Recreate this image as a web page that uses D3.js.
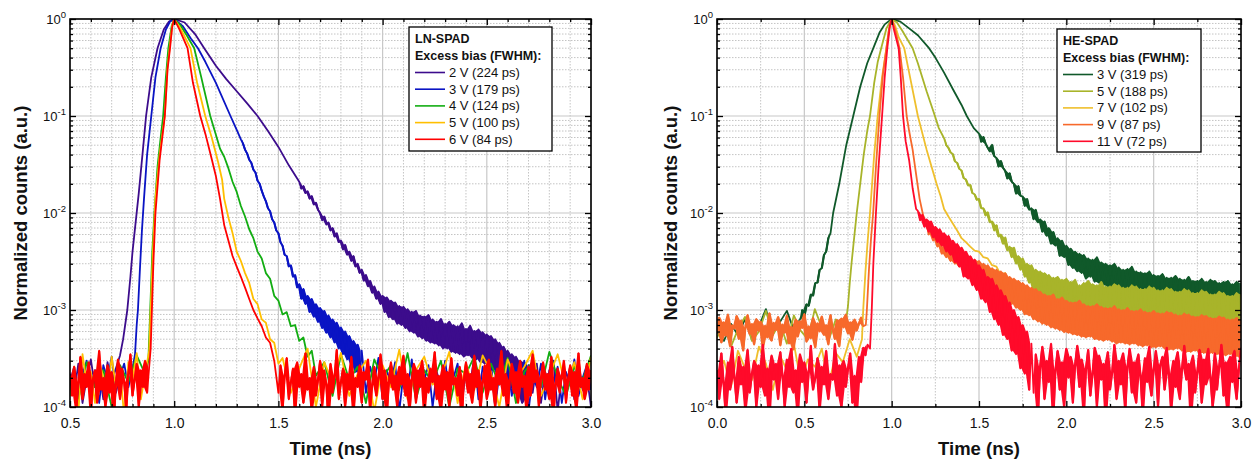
<!DOCTYPE html>
<html>
<head>
<meta charset="utf-8">
<script src="https://cdn.jsdelivr.net/npm/d3@7"></script>
<style>
    body { margin: 0; background: #fff; }
    svg { font-family: "Liberation Sans", Arial, sans-serif; }
</style>
</head>
<body>
<svg id="chart" width="1252" height="459"></svg>
<script>
// ---------- data (times in ns, counts normalized; Pre/Rise/Post/Floor arrays are in units of 1e-4) ----------
const lnLabels = ["2 V (224 ps)", "3 V (179 ps)", "4 V (124 ps)", "5 V (100 ps)", "6 V (84 ps)"];
const heLabels = ["3 V (319 ps)", "5 V (188 ps)", "7 V (102 ps)", "9 V (87 ps)", "11 V (72 ps)"];
const lnXTicks = [0.5, 1.0, 1.5, 2.0, 2.5, 3.0];
const heXTicks = [0.0, 0.5, 1.0, 1.5, 2.0, 2.5, 3.0];
const yTicks = [1e-4, 1e-3, 1e-2, 1e-1, 1];

// LN-SPAD 2 V
const ln2Pre = [2.2, 1.4, 2.8, 1.1, 2.0, 3.1, 1.6, 2.4, 1.2, 2.9, 1.8, 2.5, 3.4];
const ln2Main = [[0.755, 5e-4], [0.775, 1e-3], [0.79, 2.2e-3], [0.80, 4e-3], [0.815, 8e-3], [0.83, 0.016], [0.85, 0.045],
    [0.865, 0.1], [0.89, 0.25], [0.92, 0.5], [0.95, 0.78], [0.975, 0.94], [1.0, 1], [1.05, 0.92], [1.1, 0.7], [1.144, 0.5],
    [1.2, 0.33], [1.25, 0.24], [1.3, 0.18], [1.35, 0.135], [1.4, 0.1], [1.45, 0.07], [1.5, 0.048], [1.55, 0.031]];
const ln2Post = [210, 178, 190, 160, 168, 140, 150, 122, 128, 108,
    100, 84, 92, 76, 80, 66, 70, 57, 62, 50,
    52, 42, 47, 37, 40, 32, 36, 28, 30, 24,
    26, 20, 23, 17.5, 20, 15, 17.5, 13, 15.5, 11.5,
    14, 9.5, 13.5, 8.4, 12.5, 8.0, 12, 7.2, 11, 7.0,
    10.8, 6.5, 10.2, 6.0, 9.6, 5.8, 9.8, 5.3, 8.8, 5.1,
    8.6, 4.8, 8.9, 4.6, 8.0, 4.5, 7.6, 4.3, 8.1, 4.0,
    7.2, 4.0, 7.6, 3.7, 7.0, 3.6, 6.8, 3.5, 7.3, 3.3,
    6.4, 3.4, 6.9, 3.2, 6.1, 3.1, 6.3, 2.9, 5.9, 2.8,
    5.6, 2.7, 5.4, 2.4, 5.0, 2.2, 4.6, 2.0, 4.2, 1.8,
    3.8, 1.6, 3.5, 1.4, 3.3, 1.3, 3.0, 1.1, 2.9, 1.2, 2.7];
const ln2Floor = [1.4, 2.8, 1.1, 2.3, 1.7, 3.0, 0.9, 2.2, 1.6, 2.6, 1.2, 2.9, 1.5, 2.1, 1.0];

// LN-SPAD 3 V
const ln3Pre = [1.8, 2.6, 1.3, 2.2, 3.0, 1.5, 2.4, 1.1, 2.7, 1.9, 3.3, 1.4, 2.1, 2.8, 1.6, 2.5];
const ln3Main = [[0.812, 3.5e-4], [0.82, 7e-4], [0.826, 1e-3], [0.835, 2.5e-3], [0.845, 6.5e-3], [0.855, 0.014], [0.87, 0.04],
    [0.89, 0.1], [0.91, 0.25], [0.935, 0.5], [0.96, 0.78], [0.98, 0.94], [1.0, 1], [1.04, 0.85], [1.08, 0.63], [1.114, 0.5],
    [1.15, 0.36], [1.2, 0.22], [1.27, 0.1], [1.3, 0.072]];
const ln3Post = [575, 520, 450, 410, 355, 330, 280, 262, 215, 200,
    170, 148, 132, 112, 104, 86, 80, 66, 62, 50,
    46, 37, 36, 28, 29, 22, 23, 17, 18.5, 13,
    16.5, 11.5, 14, 9.5, 13, 8.5, 11.5, 7.5, 10.5, 6.5,
    9.8, 5.8, 8.8, 5.2, 8.0, 4.6, 7.4, 4.0, 6.6, 3.5,
    6.0, 3.1, 5.4, 2.7, 4.8, 2.3, 4.4, 2.0, 3.8];
const ln3Floor = [1.4, 2.6, 1.8, 3.2, 1.2, 2.4, 1.7, 2.9, 0.9, 2.2, 1.5, 3.1, 1.3, 2.5, 1.9, 2.7, 1.0, 2.3, 1.6, 3.0,
    1.4, 2.0, 2.8, 1.1, 2.4, 1.7, 3.3, 1.2, 2.6, 1.8, 2.9, 1.0, 2.2, 1.5, 2.7, 1.3, 2.5, 1.9, 3.0, 0.9,
    2.1, 1.6, 2.8, 1.2, 2.4, 1.8, 2.6, 1.1, 2.3, 1.7, 3.1, 1.3, 2.0, 2.7, 1.5];

// LN-SPAD 4 V
const ln4Pre = [2.0, 1.2, 2.9, 1.6, 2.4, 1.0, 2.7, 1.8, 3.4, 2.2];
const ln4Main = [[0.876, 3e-4], [0.885, 1e-3], [0.895, 4e-3], [0.905, 0.01], [0.92, 0.03], [0.935, 0.06], [0.947, 0.1],
    [0.96, 0.25], [0.972, 0.5], [0.988, 0.85], [1.0, 1], [1.03, 0.86], [1.06, 0.68], [1.096, 0.5], [1.13, 0.25],
    [1.173, 0.1], [1.2, 0.064], [1.22, 0.046]];
const ln4Post = [380, 290, 210, 165, 118, 92, 68, 55, 40, 34, 24, 21, 14, 12.5, 9, 9.5, 6.8, 7.0, 4.8, 5.2, 3.3, 3.8];
const ln4Floor = [2.1, 2.9, 1.3, 3.5, 1.9, 2.6, 1.1, 3.1, 2.0, 2.7, 1.5, 3.6, 1.2, 2.4, 1.8, 3.0, 1.0, 2.5, 2.2, 3.3,
    1.4, 2.8, 1.7, 3.2, 1.1, 2.3, 2.9, 1.6, 3.7, 2.0, 1.3, 2.6, 1.9, 3.4];

// LN-SPAD 5 V
const ln5Pre = [1.3, 2.6, 0.9, 3.5, 1.7, 2.3, 1.1, 3.0, 2.0, 1.4, 3.3, 1.6, 2.5, 0.8, 2.9, 1.9, 3.6, 1.2, 2.2, 3.8];
const ln5Main = [[0.89, 1.5e-3], [0.90, 5e-3], [0.91, 0.014], [0.93, 0.04], [0.955, 0.1], [0.967, 0.3], [0.978, 0.5],
    [0.99, 0.85], [1.0, 1], [1.03, 0.8], [1.078, 0.5], [1.11, 0.22], [1.149, 0.1], [1.18, 0.06], [1.21, 0.034], [1.23, 0.022]];
const ln5Post = [140, 90, 62, 40, 32, 24, 19, 13, 11.5, 8, 7.4, 5.0, 4.6, 2.8];
const ln5Floor = [3.2, 1.4, 2.5, 4.0, 1.0, 2.9, 1.8, 3.6, 1.3, 2.2, 3.0, 0.9, 2.7, 1.6, 3.9, 1.2, 2.4, 3.3, 1.7, 2.0,
    3.7, 1.1, 2.8, 1.5, 3.4, 2.3, 1.0, 3.1, 1.9, 2.6, 3.8, 1.3, 2.1, 3.5, 1.6, 2.9, 1.2, 3.3];

// LN-SPAD 6 V
const ln6Pre = [2.1, 1.3, 2.6, 0.9, 1.8, 3.3, 1.2, 2.2, 1.6, 2.9, 0.8, 1.9, 2.4, 1.1, 3.8, 1.5, 2.0, 1.0, 2.7, 1.4,
    2.3, 0.7, 1.7, 3.1, 1.2, 2.5, 1.8, 0.9, 2.2, 3.5, 1.3, 1.9, 2.8, 1.0, 2.4, 1.6, 3.0, 1.4, 2.6];
const ln6Main = [[0.887, 4e-4], [0.893, 1e-3], [0.90, 3e-3], [0.91, 0.01], [0.93, 0.035], [0.955, 0.1], [0.968, 0.3],
    [0.98, 0.5], [0.99, 0.82], [1.0, 1], [1.025, 0.78], [1.064, 0.5], [1.09, 0.22], [1.125, 0.1], [1.15, 0.065],
    [1.18, 0.036], [1.2, 0.024], [1.22, 0.014]];
const ln6Post = [75, 52, 36, 28, 22, 17, 13, 10, 8.2, 6.8, 5.2, 4.6, 3.0];
const ln6Floor = [1.4, 2.7, 0.9, 2.1, 3.2, 1.2, 1.8, 2.5, 0.8, 2.9,
    1.6, 2.2, 1.1, 3.6, 1.5, 2.0, 0.9, 2.6, 1.3, 1.9,
    3.0, 1.0, 2.4, 1.7, 0.7, 2.8, 1.4, 2.1, 3.9, 1.2,
    1.8, 2.5, 1.0, 2.2, 1.5, 3.3, 0.8, 2.0, 1.6, 2.7,
    1.1, 2.3, 1.9, 3.1, 0.9, 1.7, 2.6, 1.3, 2.0, 3.5,
    1.2, 2.4, 0.8, 1.8, 2.9, 1.5, 2.1, 1.0, 2.6, 1.7,
    3.4, 1.3, 2.2, 0.9, 1.9, 2.8, 1.1, 2.4, 1.6, 3.0,
    0.8, 2.0, 1.4, 2.5, 1.8, 3.7, 1.2, 2.1, 0.9, 2.7,
    1.5, 2.3, 1.0, 3.2, 1.7, 2.0, 1.3, 2.6, 0.7, 1.9,
    2.9, 1.4, 2.2, 1.1, 3.4, 1.6, 2.4, 0.9, 1.8, 2.7,
    1.2, 3.1, 1.5, 2.0, 1.0, 2.5, 1.7, 3.8, 1.3, 2.2,
    0.8, 1.9, 2.8, 1.4, 2.3, 1.1, 3.0, 1.6, 2.1, 0.9,
    2.6, 1.3, 3.5, 1.8, 2.4, 1.0, 2.0, 2.9, 1.5, 2.2,
    1.2, 3.3, 0.8, 1.7, 2.5, 1.4, 2.1, 3.0, 1.1, 1.9,
    2.7, 1.3, 2.3, 0.9, 3.6, 1.6, 2.0, 1.2, 2.8, 1.5, 2.4];

// HE-SPAD 3 V
const he3Pre = [6.0, 4.8, 7.2, 5.5, 8.0, 5.0, 6.8, 10.2, 5.8, 7.5, 9.8, 6.2, 8.4];
const he3Rise = [8, 10, 8.5, 11.5, 11, 14.5, 14, 19, 19, 26, 27, 37, 40, 55, 62];
const he3Main = [[0.665, 0.01], [0.7, 0.02], [0.74, 0.05], [0.78, 0.1], [0.82, 0.2], [0.86, 0.35], [0.895, 0.5],
    [0.93, 0.72], [0.96, 0.88], [1.0, 1], [1.05, 0.94], [1.1, 0.8], [1.15, 0.68], [1.214, 0.5], [1.25, 0.4], [1.3, 0.28],
    [1.35, 0.19], [1.4, 0.13], [1.43, 0.1], [1.47, 0.075]];
const he3Post = [660, 540, 610, 520, 470, 430, 505, 385, 370, 300, 345, 292, 272, 226, 258, 210,
    200, 158, 190, 150, 148, 118, 140, 108, 112, 86, 108, 80, 86, 64, 82, 58,
    70, 48, 64, 46, 55, 36, 52, 35, 46, 29, 43, 27, 40, 25, 38, 24,
    37, 21, 34, 22, 33, 19.5, 35, 19, 31, 18, 30, 17.5, 29, 16.5, 30, 16,
    27.5, 15.5, 26, 16, 26.5, 14.5, 28, 14, 25, 14, 24.5, 13.5, 24, 13, 25, 12.5,
    23, 13, 22.5, 12, 23.5, 12, 21.5, 12.5, 21.5, 11.5, 22.5, 11.5, 21, 11.8, 20.5, 11,
    22, 11, 20, 11.5, 20, 10.5, 21, 11, 19.5, 10.8, 20.5, 10.5, 20, 10.2, 19, 10.6,
    19.5, 10.5, 20, 10, 18.5, 10.2, 19.5, 10, 19];

// HE-SPAD 5 V
const he5Pre = [5.2, 7.0, 4.2, 6.3, 8.5, 4.8, 6.0, 9.8, 5.5, 7.4, 4.5, 8.8, 6.1, 5.0, 10.2, 6.6, 4.9, 8.0, 6.8];
const he5Main = [[0.74, 8e-4], [0.75, 1.1e-3], [0.76, 1.9e-3], [0.77, 3e-3], [0.785, 5.5e-3], [0.80, 0.01], [0.82, 0.02],
    [0.84, 0.04], [0.86, 0.07], [0.876, 0.1], [0.9, 0.22], [0.92, 0.36], [0.94, 0.5], [0.97, 0.8], [1.0, 1], [1.03, 0.92],
    [1.06, 0.76], [1.12, 0.5], [1.15, 0.35], [1.2, 0.18], [1.24, 0.11], [1.27, 0.075]];
const he5Post = [590, 500, 470, 420, 405, 340, 330, 285, 275, 228, 222, 192, 195, 160, 156, 136,
    140, 112, 112, 94, 102, 80, 82, 66, 75, 57, 60, 48, 56, 41, 45, 35,
    44, 30, 36, 26, 34, 22, 30, 19, 29, 16, 26, 15, 25, 12.5, 24, 11.5,
    23, 10.5, 21.5, 10, 22, 9.5, 20.5, 9, 21, 8.8, 19.5, 8.5, 20.5, 8.4, 18, 8.6,
    19, 8.2, 20, 7.8, 18.5, 8.0, 18, 7.7, 19.5, 7.6, 17.5, 7.9, 17.5, 7.5, 18.5, 7.3,
    18, 7.4, 17, 7.5, 17, 7.1, 18, 7.2, 17.5, 7.0, 16.5, 7.2, 16.5, 6.9, 17.5, 6.8,
    17, 6.7, 16, 6.9, 16, 6.6, 17, 6.5, 16.5, 6.4, 15.5, 6.6, 15.5, 6.3, 16.5, 6.2,
    16, 6.1, 15, 6.3, 15, 6.0, 16, 5.9, 15.5, 5.8, 14.5, 6.0, 14.5, 5.7, 15.5, 5.6,
    15, 5.5, 14, 5.7, 14, 5.4, 15, 5.3, 14.5];

// HE-SPAD 7 V
const he7Pre = [2.2, 3.0, 1.6, 3.8, 2.5, 1.9, 4.2, 2.8, 1.5, 3.4, 2.4, 4.5, 1.8, 3.1, 2.6, 4.0, 1.7, 3.6, 2.9, 5.0, 3.3];
const he7Main = [[0.83, 5e-4], [0.837, 1e-3], [0.85, 2.5e-3], [0.862, 5e-3], [0.876, 0.01], [0.9, 0.04], [0.92, 0.1],
    [0.945, 0.25], [0.97, 0.5], [0.985, 0.78], [1.0, 1], [1.02, 0.85], [1.04, 0.65], [1.072, 0.5], [1.1, 0.28],
    [1.15, 0.1], [1.2, 0.045], [1.257, 0.02], [1.28, 0.015]];
const he7Post = [110, 92, 78, 66, 55, 50, 45, 41, 40, 35, 34, 29, 28, 23, 24, 18.5, 20, 15, 16.5, 12.5,
    14.5, 10.5, 13, 9, 12, 8, 11, 7.5, 10, 7, 9.5, 6.5, 9, 6.5, 8.8, 6, 8.5, 6, 8.2, 5.8,
    8, 5.5, 8, 5.6, 7.8, 5.4, 7.6, 5.2, 7.5, 5.3, 7.4, 5, 7.2, 5.1, 7, 4.9, 7.2, 4.8, 7, 4.7,
    6.8, 4.8, 6.9, 4.6, 6.7, 4.5, 6.6, 4.6, 6.5];

// HE-SPAD 9 V
const he9Pre = [6.0, 8.4, 4.6, 7.5, 5.4, 9.0, 4.2, 7.0, 6.4, 8.7,
    5.0, 7.8, 3.8, 6.6, 8.9, 5.6, 7.2, 4.4, 8.1, 6.1,
    7.6, 4.0, 6.9, 5.2, 9.3, 4.8, 7.4, 6.2, 8.5, 4.3,
    7.1, 5.8, 8.8, 4.5, 6.7, 3.9, 8.0, 5.3, 7.7, 6.5,
    9.1, 4.7, 6.8, 5.1, 8.3, 4.1, 7.3, 6.0, 8.6, 5.5,
    7.0, 4.4, 8.9, 6.3, 5.0, 7.9, 4.2, 8.2, 6.6, 9.0,
    5.7, 7.5, 4.9, 8.0, 6.1, 7.2, 8.4, 6.8];
const he9Main = [[0.852, 7e-4], [0.858, 1e-3], [0.87, 2.6e-3], [0.882, 5.5e-3], [0.894, 0.01], [0.91, 0.03], [0.93, 0.1],
    [0.95, 0.27], [0.97, 0.5], [0.985, 0.8], [1.0, 1], [1.02, 0.78], [1.045, 0.5], [1.065, 0.25], [1.086, 0.1],
    [1.1, 0.07], [1.12, 0.045], [1.14, 0.025], [1.16, 0.014], [1.18, 0.0095]];
const he9Post = [76, 60, 68, 52, 57, 45, 50, 38, 45, 35, 43, 32, 40, 30, 38, 28,
    37, 25, 35, 24, 34, 21, 33, 20, 32, 18, 30, 17, 29, 15.5, 27, 15,
    26, 13.5, 25, 13, 24, 12, 22, 11.5, 21, 10.5, 20, 10, 19, 9, 18, 8.8,
    17, 8, 16.5, 7.6, 15.5, 7.2, 14.5, 7, 14, 6.6, 14.5, 6.4, 13, 6.2, 13.5, 5.9,
    12.5, 5.8, 12, 5.6, 12, 5.5, 12.5, 5.3, 11.5, 5.2, 11, 5.3, 11, 5.0, 11.5, 4.9,
    10.8, 4.8, 10.5, 4.9, 10.5, 4.7, 11, 4.5, 10.2, 4.6, 10, 4.5, 10.5, 4.4, 9.8, 4.5,
    9.8, 4.3, 10.2, 4.2, 9.6, 4.3, 9.4, 4.1, 9.8, 4.1, 9.3, 4.2, 9.2, 4.0, 9.6, 3.9,
    9.4, 3.9, 9.0, 4.0, 8.8, 3.8, 9.2, 3.7, 9.0, 3.7, 8.6, 3.8, 8.5, 3.6, 8.9, 3.6,
    8.7, 3.5, 8.3, 3.6, 8.2, 3.5, 8.6, 3.4, 8.4, 3.4, 8.0, 3.5, 8.0, 3.3, 8.3, 3.3, 7.9];

// HE-SPAD 11 V
const he11Pre = [2.4, 1.2, 3.6, 1.8, 0.8, 2.9, 1.5, 4.2, 2.0, 1.1,
    3.3, 1.7, 2.6, 0.9, 3.9, 1.4, 2.2, 3.0, 1.0, 2.7,
    1.6, 4.4, 1.3, 2.5, 0.7, 3.4, 1.9, 2.8, 1.2, 3.7,
    2.1, 1.0, 3.1, 1.6, 4.0, 1.4, 2.4, 0.8, 3.5, 1.8,
    2.9, 1.1, 2.3, 4.3, 1.5, 2.0, 3.2, 0.9, 2.6, 1.7,
    3.8, 1.2, 2.2, 1.9, 4.5, 1.3, 2.7, 1.0, 3.0, 1.6,
    2.5, 3.6, 1.1, 2.1, 0.8, 3.3, 1.8, 4.1, 3.4, 4.4];
const he11Main = [[0.876, 4e-4], [0.886, 1e-3], [0.895, 3e-3], [0.91, 0.01], [0.925, 0.03], [0.945, 0.1], [0.96, 0.25],
    [0.975, 0.5], [0.99, 0.85], [1.0, 1], [1.015, 0.75], [1.04, 0.5], [1.052, 0.25], [1.065, 0.1], [1.08, 0.055],
    [1.1, 0.035], [1.12, 0.018], [1.14, 0.011]];
const he11Post = [105, 84, 96, 72, 86, 64, 82, 56, 72, 50, 68, 46, 62, 40, 58, 37,
    52, 31, 48, 28, 44, 22, 40, 21, 36, 18, 33, 16, 29, 13, 26, 12,
    22, 9.5, 21, 8, 18, 7, 16, 5.5, 14, 5, 12, 3.8, 10, 3.5, 8.5, 2.5,
    7, 2.2, 6, 1.5, 4.5];
const he11Floor = [1.4, 3.5, 0.8, 2.6, 4.2, 1.2, 3.0, 1.8, 4.5, 0.7,
    2.4, 3.8, 1.5, 2.9, 1.0, 4.0, 2.0, 3.3, 1.1, 2.7,
    4.3, 1.6, 3.1, 0.8, 2.5, 3.9, 1.3, 2.2, 4.1, 1.0,
    3.4, 1.9, 2.8, 0.7, 3.7, 1.5, 2.3, 4.4, 1.2, 3.0,
    1.7, 3.6, 0.9, 2.6, 4.0, 1.4, 2.9, 1.1, 3.5, 2.1,
    0.8, 3.2, 1.8, 4.2, 1.3, 2.4, 3.8, 1.0, 2.7, 3.3,
    1.5, 4.1, 2.2, 0.9, 3.0, 1.6, 3.7, 1.2, 2.5, 4.3,
    1.9, 2.8, 0.7, 3.4, 1.4, 2.3, 3.9, 1.1, 3.1, 1.7,
    4.0, 2.0, 1.0, 3.6, 1.5, 2.6, 4.4, 1.3, 2.9, 0.8,
    3.3, 1.8, 3.8, 1.2, 2.4, 4.1];

// ---------- helpers ----------
// detector bins: first bin time, bin width, values in 1e-4 units; dense=true marks a noise band
function bins(t0, dt, vals, dense) {
    let a = vals.map(function (v, i) { return [t0 + i * dt, v * 1e-4]; });
    a.dense = !!dense;
    return a;
}
function makeSeries(parts) {
    let pts = [];
    parts.forEach(function (p) { pts = pts.concat(p); });
    pts.sort(function (a, b) { return a[0] - b[0]; });
    // dense noise: fill the range covered by each pair of neighbouring bins
    let bands = parts.filter(function (p) { return p.dense; }).map(function (p) {
        let env = [];
        for (let i = 0; i < p.length - 1; i++) {
            env.push({t: (p[i][0] + p[i + 1][0]) / 2,
                lo: Math.min(p[i][1], p[i + 1][1]), hi: Math.max(p[i][1], p[i + 1][1])});
        }
        return env;
    });
    return {points: pts, bands: bands};
}

const lnData = [
    makeSeries([bins(0.50, 0.02, ln2Pre), ln2Main, bins(1.60, 0.01, ln2Post, true), bins(2.72, 0.02, ln2Floor)]),
    makeSeries([bins(0.50, 0.02, ln3Pre), ln3Main, bins(1.32, 0.01, ln3Post, true), bins(1.92, 0.02, ln3Floor)]),
    makeSeries([bins(0.50, 0.04, ln4Pre), ln4Main, bins(1.24, 0.02, ln4Post), bins(1.68, 0.04, ln4Floor)]),
    makeSeries([bins(0.50, 0.02, ln5Pre), ln5Main, bins(1.24, 0.02, ln5Post), bins(1.52, 0.04, ln5Floor)]),
    makeSeries([bins(0.50, 0.01, ln6Pre, true), ln6Main, bins(1.24, 0.02, ln6Post), bins(1.50, 0.01, ln6Floor, true)])
];
const heData = [
    makeSeries([bins(0.00, 0.04, he3Pre), bins(0.475, 0.0125, he3Rise, true), he3Main, bins(1.50, 0.0125, he3Post, true)]),
    makeSeries([bins(0.00, 0.04, he5Pre), he5Main, bins(1.30, 0.0125, he5Post, true)]),
    makeSeries([bins(0.00, 0.04, he7Pre), he7Main, bins(1.30, 0.025, he7Post)]),
    makeSeries([bins(0.00, 0.0125, he9Pre, true), he9Main, bins(1.20, 0.0125, he9Post, true)]),
    makeSeries([bins(0.00, 0.0125, he11Pre, true), he11Main, bins(1.15, 0.0125, he11Post, true),
        bins(1.8125, 0.0125, he11Floor, true)])
];

const lnColors = ["#3c0c8c", "#0a14c4", "#12ad12", "#ffbf00", "#ff0000"];
const heColors = ["#10592a", "#a8b42a", "#efbf2c", "#f7692b", "#ff0a2a"];

const svg = d3.select("#chart");

function drawPanel(cfg) {
    let top = 19, bottom = 407;
    let x = d3.scaleLinear().domain(cfg.domain).range([cfg.left, cfg.right]);
    let y = d3.scaleLog().domain([1e-4, 1]).range([bottom, top]);
    let yc = function (v) { return y(Math.max(v, 2e-5)); };

    let yMinor = [];
    for (let e = -4; e < 0; e++) {
        for (let k = 2; k <= 9; k++) yMinor.push(k * Math.pow(10, e));
    }
    let xMinor = d3.range(cfg.domain[0], cfg.domain[1] + 1e-9, cfg.minorStep)
        .filter(function (v) { return Math.abs(v * 2 - Math.round(v * 2)) > 1e-6; });

    let g = svg.append("g");

    // grid
    let grid = g.append("g");
    grid.selectAll(".vminor").data(xMinor).enter().append("line")
        .attr("x1", x).attr("x2", x).attr("y1", top).attr("y2", bottom)
        .attr("stroke", "#c4c4c4").attr("stroke-width", 1).attr("stroke-dasharray", "1.5,1.5");
    grid.selectAll(".hminor").data(yMinor).enter().append("line")
        .attr("y1", y).attr("y2", y).attr("x1", cfg.left).attr("x2", cfg.right)
        .attr("stroke", "#c4c4c4").attr("stroke-width", 1).attr("stroke-dasharray", "1.5,1.5");
    grid.selectAll(".vmajor").data(cfg.ticks).enter().append("line")
        .attr("x1", x).attr("x2", x).attr("y1", top).attr("y2", bottom)
        .attr("stroke", "#c8c8c8").attr("stroke-width", 1.2);
    grid.selectAll(".hmajor").data(yTicks).enter().append("line")
        .attr("y1", y).attr("y2", y).attr("x1", cfg.left).attr("x2", cfg.right)
        .attr("stroke", "#c8c8c8").attr("stroke-width", 1.2);

    // curves
    let clipId = "clip-" + cfg.name;
    svg.append("clipPath").attr("id", clipId).append("rect")
        .attr("x", cfg.left).attr("y", top).attr("width", cfg.right - cfg.left).attr("height", bottom - top);
    let line = d3.line()
        .x(function (d) { return x(d[0]); })
        .y(function (d) { return yc(d[1]); });
    let area = d3.area()
        .x(function (d) { return x(d.t); })
        .y0(function (d) { return yc(d.lo); })
        .y1(function (d) { return yc(d.hi); });
    let curves = g.append("g").attr("clip-path", "url(#" + clipId + ")")
        .selectAll("g").data(cfg.data).enter().append("g");
    curves.each(function (s, i) {
        let cg = d3.select(this);
        cg.selectAll("path.band").data(s.bands).enter().append("path")
            .attr("class", "band").attr("d", area)
            .attr("fill", cfg.colors[i]).attr("stroke", "none");
        cg.append("path").attr("d", line(s.points))
            .attr("fill", "none")
            .attr("stroke", cfg.colors[i])
            .attr("stroke-width", 1.8)
            .attr("stroke-linejoin", "round");
    });

    // axes (ticks inward on all four sides)
    let font = "'Liberation Sans', Arial, sans-serif";
    let bAxis = g.append("g").attr("transform", "translate(0," + bottom + ")")
        .call(d3.axisBottom(x).tickValues(cfg.ticks).tickSize(-6).tickPadding(11).tickFormat(d3.format(".1f")));
    bAxis.append("g").call(d3.axisBottom(x).tickValues(xMinor).tickSize(-3).tickFormat(""));
    let tAxis = g.append("g").attr("transform", "translate(0," + top + ")")
        .call(d3.axisTop(x).tickValues(cfg.ticks).tickSize(-6).tickFormat(""));
    tAxis.append("g").call(d3.axisTop(x).tickValues(xMinor).tickSize(-3).tickFormat(""));
    let lAxis = g.append("g").attr("transform", "translate(" + cfg.left + ",0)")
        .call(d3.axisLeft(y).tickValues(yTicks).tickSize(-6).tickPadding(4).tickFormat(function () { return "10"; }));
    lAxis.append("g").call(d3.axisLeft(y).tickValues(yMinor).tickSize(-3).tickFormat(""));
    let rAxis = g.append("g").attr("transform", "translate(" + cfg.right + ",0)")
        .call(d3.axisRight(y).tickValues(yTicks).tickSize(-6).tickFormat(""));
    rAxis.append("g").call(d3.axisRight(y).tickValues(yMinor).tickSize(-3).tickFormat(""));

    [bAxis, tAxis, lAxis, rAxis].forEach(function (a) {
        a.attr("font-family", font).attr("font-size", 14);
        a.selectAll(".domain").remove();
        a.selectAll(".tick line").attr("stroke", "#000").attr("stroke-width", 1.3);
        a.selectAll(".tick text").attr("fill", "#111");
    });
    lAxis.attr("font-size", 13);
    lAxis.selectAll(".tick text").filter(function () { return this.textContent === "10"; })
        .append("tspan").attr("dy", -6).attr("font-size", 9.5)
        .text(function (d) { return String(Math.round(Math.log10(d))); });

    g.append("rect").attr("x", cfg.left).attr("y", top)
        .attr("width", cfg.right - cfg.left).attr("height", bottom - top)
        .attr("fill", "none").attr("stroke", "#000").attr("stroke-width", 1.6);

    // titles
    g.append("text").attr("transform", "translate(" + cfg.yTitleX + "," + (top + bottom) / 2 + ") rotate(-90)")
        .attr("text-anchor", "middle").attr("font-weight", "bold").attr("font-size", 18.5)
        .attr("fill", "#111").text("Normalized counts (a.u.)");
    g.append("text").attr("x", (cfg.left + cfg.right) / 2).attr("y", 455)
        .attr("text-anchor", "middle").attr("font-weight", "bold").attr("font-size", 18.5)
        .attr("fill", "#111").text("Time (ns)");

    // legend
    let lg = g.append("g").attr("transform", "translate(" + cfg.legend[0] + "," + cfg.legend[1] + ")");
    lg.append("rect").attr("x", 0).attr("y", 0).attr("width", cfg.legend[2]).attr("height", cfg.legend[3])
        .attr("fill", "#fff").attr("stroke", "#000").attr("stroke-width", 1.3);
    lg.append("text").attr("x", 6).attr("y", 16).attr("font-weight", "bold").attr("font-size", 12.5)
        .attr("fill", "#111").text(cfg.title);
    lg.append("text").attr("x", 6).attr("y", 33.3).attr("font-weight", "bold").attr("font-size", 12.5)
        .attr("fill", "#111").text("Excess bias (FWHM):");
    let rows = lg.selectAll(".row").data(cfg.labels).enter().append("g")
        .attr("transform", function (d, i) { return "translate(0," + (50 + i * 16.7) + ")"; });
    rows.append("line").attr("x1", 6).attr("x2", 36).attr("y1", -4.5).attr("y2", -4.5)
        .attr("stroke", function (d, i) { return cfg.colors[i]; }).attr("stroke-width", 1.6);
    rows.append("text").attr("x", 40).attr("y", 0).attr("font-size", 13).attr("fill", "#111")
        .text(function (d) { return d; });
}

drawPanel({
    name: "ln", left: 70, right: 591, domain: [0.5, 3.0], ticks: lnXTicks, minorStep: 0.1,
    data: lnData, colors: lnColors, labels: lnLabels, title: "LN-SPAD",
    legend: [409, 27, 143, 124], yTitleX: 27
});
drawPanel({
    name: "he", left: 717, right: 1241, domain: [0.0, 3.0], ticks: heXTicks, minorStep: 0.25,
    data: heData, colors: heColors, labels: heLabels, title: "HE-SPAD",
    legend: [1057, 29, 144, 123], yTitleX: 677
});
</script>
</body>
</html>
